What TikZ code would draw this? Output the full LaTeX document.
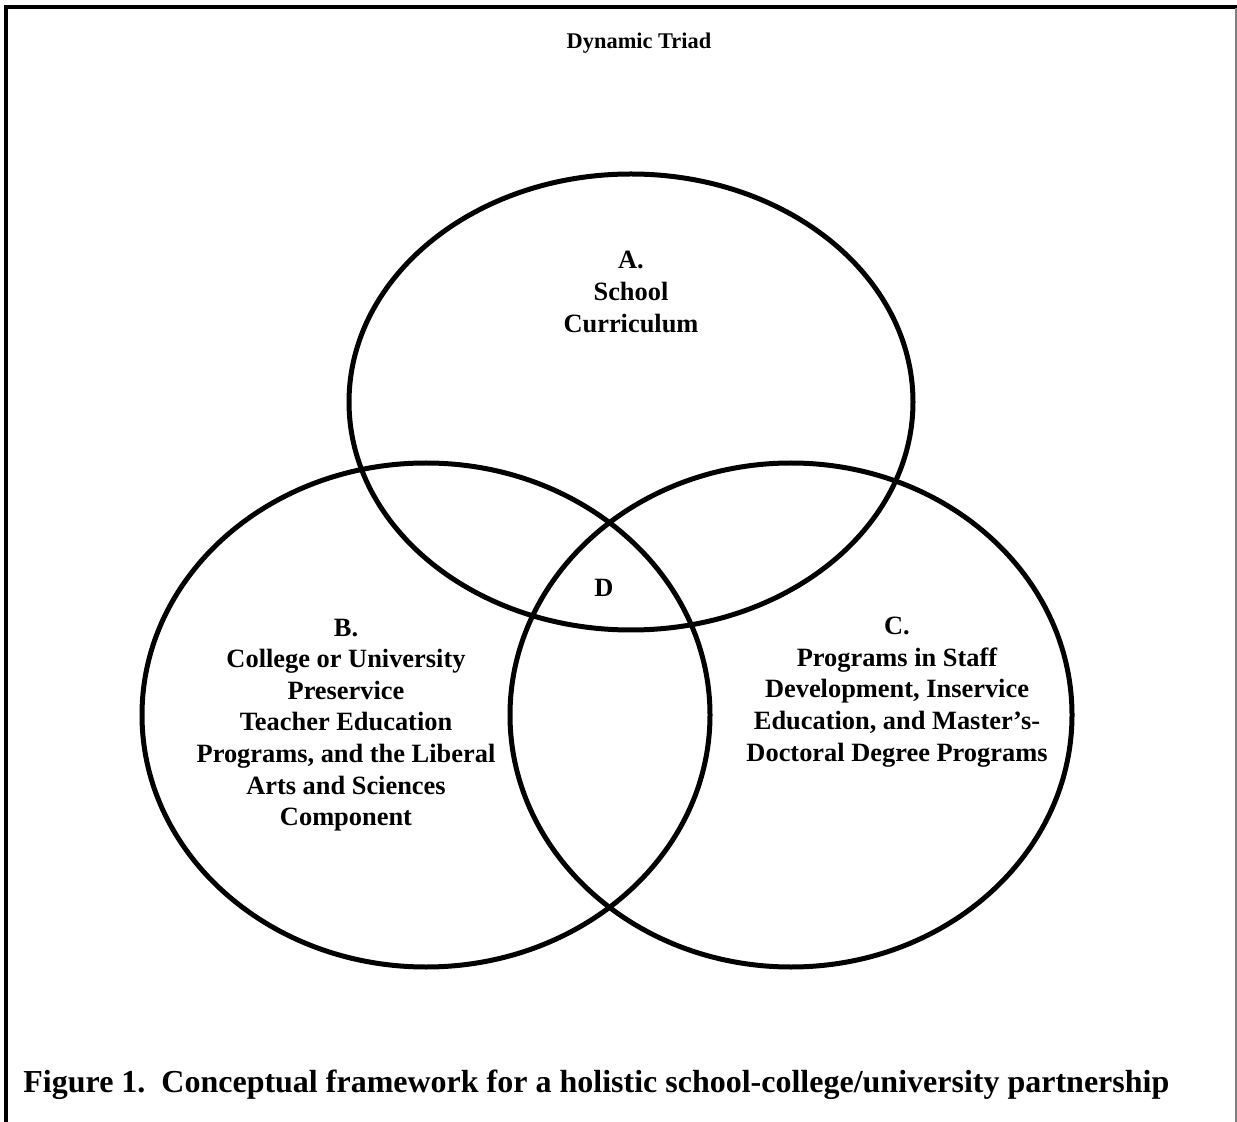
\documentclass[tikz,border=0pt]{standalone}
\usepackage{fontspec}
\setmainfont{Liberation Serif}
\begin{document}
\begin{tikzpicture}[x=0.5pt,y=-0.5pt,
  ring/.style={line width=2.5pt},
  lbl/.style={font=\fontsize{13.2}{15.8}\selectfont\bfseries, align=center, inner sep=0pt},
  ttl/.style={font=\fontsize{11.2}{13.4}\selectfont\bfseries, inner sep=0pt},
  figcap/.style={font=\fontsize{16}{19}\selectfont\bfseries, inner sep=0pt, anchor=base west},
]
\useasboundingbox (0,0) rectangle (1237,1122);
% frame
\draw[line width=2pt] (6,1122) -- (6,7) -- (1237,7);
\draw[gray, line width=0.6pt] (1236,8) -- (1236,1122);
% circles
\draw[ring] (631,402) ellipse [x radius=282, y radius=228];
\draw[ring] (426,715) ellipse [x radius=284, y radius=252];
\draw[ring] (791,715) ellipse [x radius=281, y radius=252];
% texts
\node[ttl] (title) at (639,43) {Dynamic Triad};
\node[lbl] (A) at (631,292) {A.\\School\\Curriculum};
\node[lbl] (D) at (604,588) {D};
\node[lbl] (B) at (346,725) {B.\\College or University\\Preservice\\Teacher Education\\Programs, and the Liberal\\Arts and Sciences\\Component};
\node[lbl] (C) at (897,692) {C.\\Programs in Staff\\Development, Inservice\\Education, and Master’s-\\Doctoral Degree Programs};
\node[figcap] (caption) at (23,1092) {Figure 1.\ \ Conceptual framework for a holistic school-college/university partnership};
\end{tikzpicture}
\end{document}
